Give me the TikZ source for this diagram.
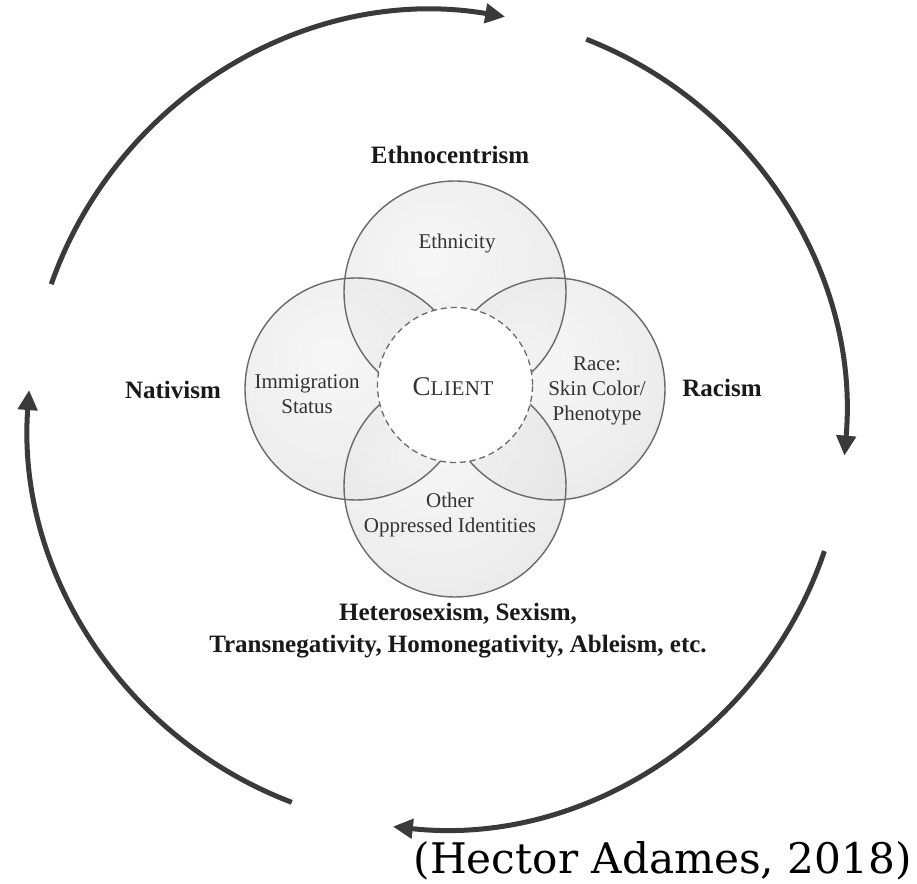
\documentclass[tikz,border=0pt]{standalone}
\usepackage{fontspec}
\setmainfont{Liberation Serif}
\newfontfamily\citefont{DejaVu Serif}
\usetikzlibrary{arrows.meta}
\definecolor{arcgray}{HTML}{3A3A3A}
\definecolor{rimgray}{HTML}{6A6A6A}
\definecolor{txtgray}{HTML}{333333}
\pgfdeclareradialshading{glass}{\pgfpoint{-6bp}{8bp}}{color(0bp)=(black!4); color(28bp)=(black!10); color(44bp)=(black!19); color(50bp)=(black!32); color(80bp)=(black!32)}
\begin{document}
\begin{tikzpicture}[x=1pt,y=1pt,
  cyclearc/.style={draw=arcgray,line width=5pt,-{Triangle[length=20pt,width=19pt]}},
  venn/.style={circle,minimum size=222pt,inner sep=0pt},
  vennfill/.style={shading=glass,fill opacity=0.7},
  vennrim/.style={draw=rimgray,line width=1.4pt},
  inlabel/.style={font=\fontsize{21}{25}\selectfont,text=txtgray,align=center},
  outlabel/.style={font=\fontsize{25}{32}\selectfont\bfseries,text=black!90,align=center}
]
\useasboundingbox (0,0) rectangle (917,883);
\fill[white] (0,0) rectangle (917,883);
% big cycle
\coordinate (cc) at (437,463);
\draw[cyclearc] (cc) ++(160.6:409) arc[start angle=160.6,end angle=80.4,radius=409];
\draw[cyclearc] (cc) ++(68.6:409) arc[start angle=68.6,end angle=-5,radius=409];
\draw[cyclearc] (cc) ++(-18.7:409) arc[start angle=-18.7,end angle=-96.2,radius=409];
\draw[cyclearc] (cc) ++(-110.8:409) arc[start angle=-110.8,end angle=-184.2,radius=409];
% venn circles
\node[venn] (top) at (455,591) {};
\node[venn] (left) at (356,494) {};
\node[venn] (right) at (554,494) {};
\node[venn] (bottom) at (455,397) {};
\foreach \n in {top,left,right,bottom}{
  \shade[vennfill] (\n.center) circle[radius=111pt];
}
\foreach \n in {top,left,right,bottom}{
  \draw[vennrim] (\n.center) circle[radius=111pt];
}
\node[circle,minimum size=155pt,inner sep=0pt,fill=white,draw=rimgray,line width=1.3pt,dash pattern=on 6pt off 4pt] (client) at (455,498) {};
% inner labels
\node[inlabel] (eth) at (457,640) {Ethnicity};
\node[inlabel] (imm) at (307,489) {Immigration\\Status};
\node[inlabel] (cl) at (453,496) {{\fontsize{27}{27}\selectfont C}{\fontsize{21}{21}\selectfont L\kern0.5pt I\kern0.5pt E\kern0.5pt N\kern0.5pt T}};
\node[inlabel] (race) at (597,492) {Race:\\Skin Color/\\Phenotype};
\node[inlabel] (oth) at (450,368) {Other\\Oppressed Identities};
% outer labels
\node[outlabel] (ethno) at (450,728) {Ethnocentrism};
\node[outlabel] (nat) at (173,493) {Nativism};
\node[outlabel] (rac) at (722,495) {Racism};
\node[outlabel] (hetero) at (458,252) {Heterosexism, Sexism,\\Transnegativity, Homonegativity, Ableism, etc.};
% citation
\node[anchor=base east,inner sep=0pt,text=black] (cite) at (912,10) {\resizebox{498pt}{32pt}{\citefont (Hector Adames, 2018)}};
\end{tikzpicture}
\end{document}
